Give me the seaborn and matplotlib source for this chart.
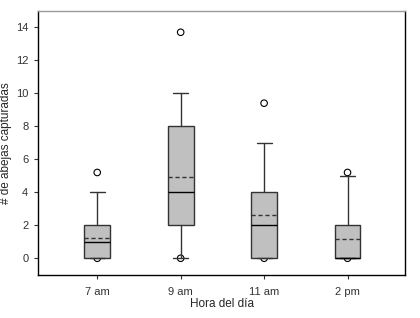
import matplotlib
matplotlib.use('Agg')
import matplotlib.pyplot as plt
import seaborn as sns
import pandas as pd

sns.set_style('white')
plt.rcParams['font.family'] = ['Liberation Sans', 'DejaVu Sans']

# summary values
horas = ['7 am', '9 am', '11 am', '2 pm']
q1 = [0, 2, 0, 0]
mediana = [1, 4, 2, 0]
q3 = [2, 8, 4, 2]
media = [1.25, 4.9, 2.6, 1.15]
bigote_inf = [0, 0, 0, 0]
bigote_sup = [4, 10, 7, 5]
puntos_hora = ['7 am', '7 am', '9 am', '9 am', '11 am', '11 am', '2 pm', '2 pm']
puntos_valor = [5.2, 0, 13.7, 0, 9.4, 0, 5.2, 0]

stats = []
for i, h in enumerate(horas):
    stats.append({'label': h, 'q1': q1[i], 'med': mediana[i], 'q3': q3[i],
                  'mean': media[i], 'whislo': bigote_inf[i],
                  'whishi': bigote_sup[i], 'fliers': []})

fig = plt.figure(figsize=(4.2, 3.18), dpi=100)
ax = fig.add_axes([0.0905, 0.136, 0.874, 0.830])

ax.bxp(stats, positions=range(len(horas)), widths=0.31, capwidths=0.18,
       patch_artist=True, showmeans=True, meanline=True,
       boxprops=dict(facecolor='#c0c0c0', edgecolor='#333333', linewidth=1.0),
       medianprops=dict(color='black', linewidth=1.0),
       meanprops=dict(color='#333333', linestyle=(0, (3, 2)), linewidth=1.0),
       whiskerprops=dict(color='#333333', linewidth=1.0),
       capprops=dict(color='#333333', linewidth=1.0))

puntos = pd.DataFrame({'hora': [horas.index(h) for h in puntos_hora],
                       'valor': puntos_valor})
sns.scatterplot(data=puntos, x='hora', y='valor', ax=ax, marker='o', s=22,
                facecolor='none', edgecolor='black', linewidth=0.8, zorder=1.5)

ax.set_xlim(-0.71, 3.69)
ax.set_ylim(-1, 15)
ax.set_yticks(range(0, 15, 2))
ax.set_xticks(range(len(horas)))
ax.set_xticklabels(horas)
ax.tick_params(axis='both', labelsize=8, labelcolor='#333333', length=3,
               width=0.8, color='#333333', direction='out',
               left=True, bottom=True, pad=6)
ax.tick_params(axis='y', pad=4)
ax.set_xlabel('Hora del día', fontsize=8.5)
ax.set_ylabel('# de abejas capturadas', fontsize=8.5)
ax.yaxis.set_label_coords(-0.07, 0.5)
ax.xaxis.set_label_coords(0.5, -0.088)

for s in ['left', 'bottom', 'right']:
    ax.spines[s].set_color('black')
    ax.spines[s].set_linewidth(1.0)
ax.spines['top'].set_color('#999999')
ax.spines['top'].set_linewidth(1.0)

fig.savefig('out.png', dpi=100)
